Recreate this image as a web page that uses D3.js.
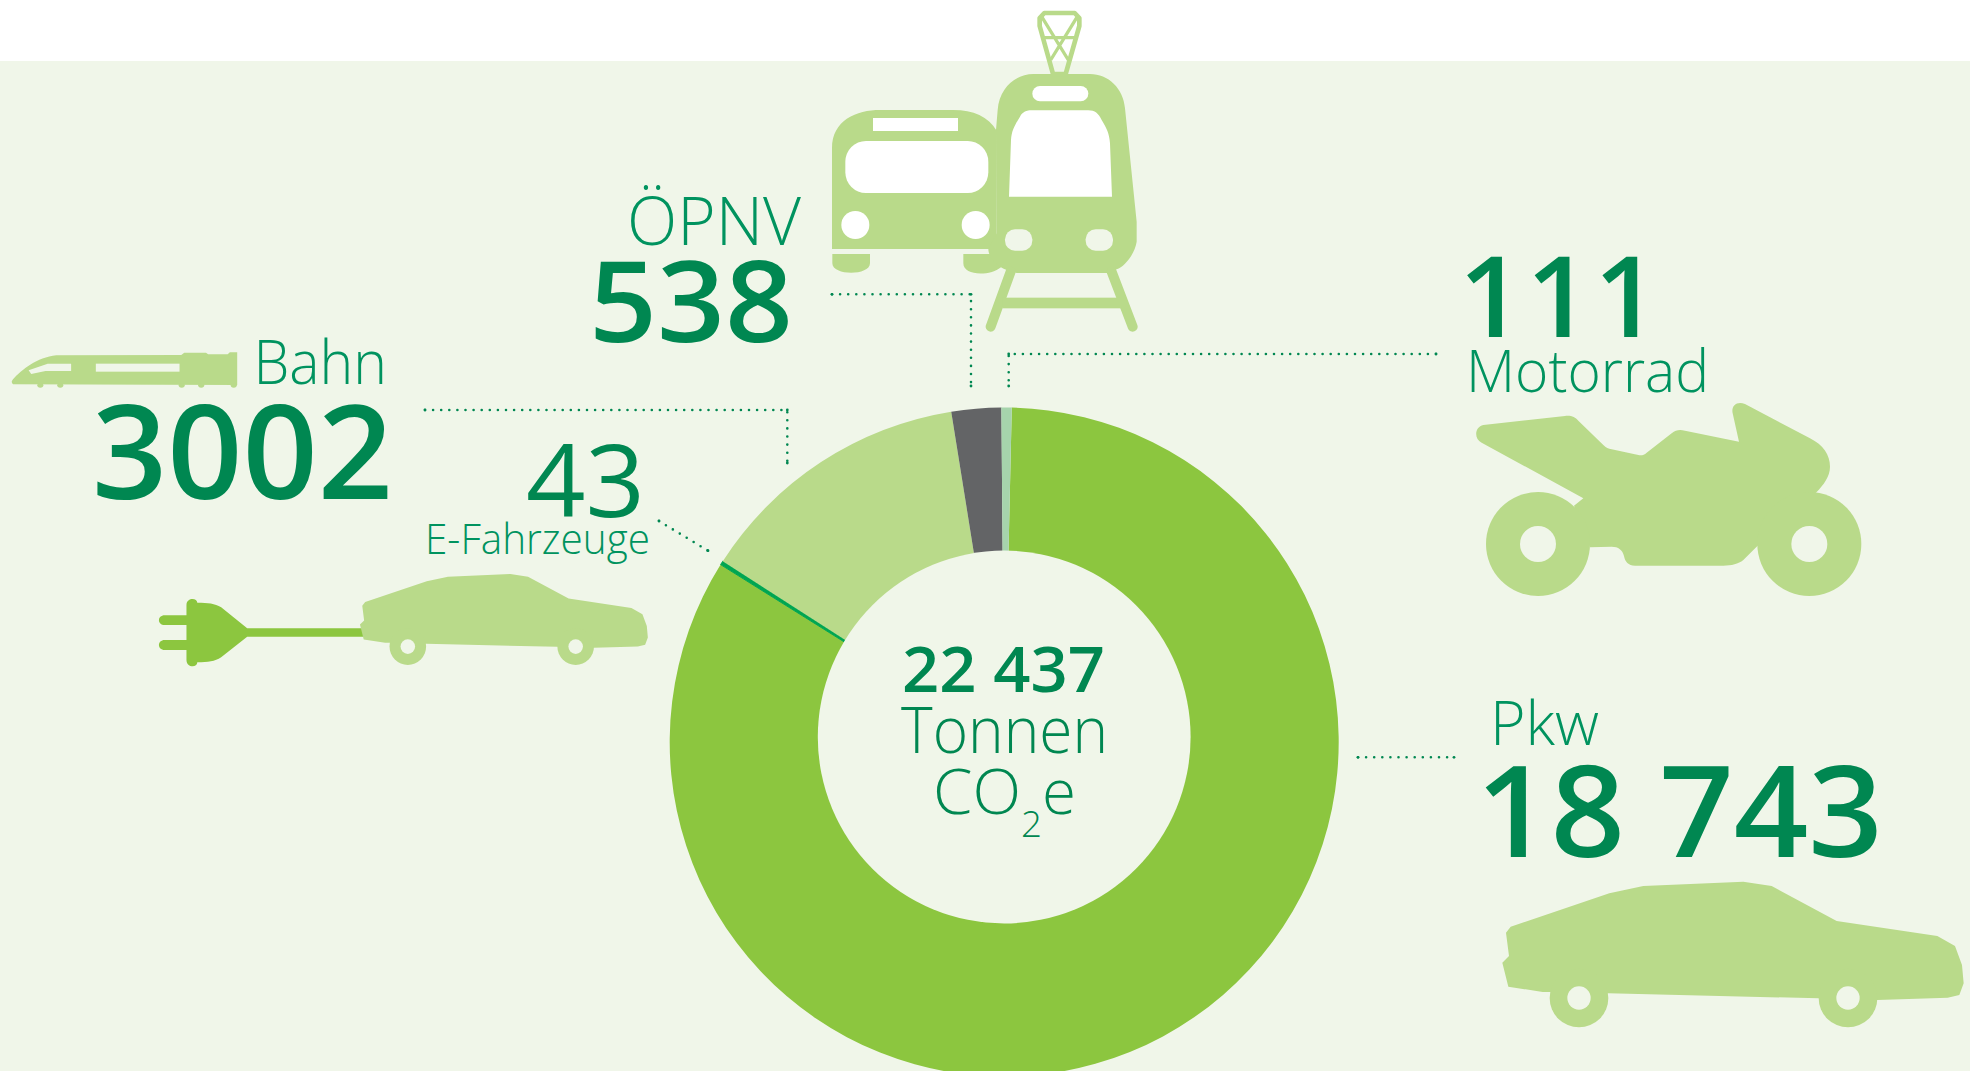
<!DOCTYPE html>
<html lang="de">
<head>
<meta charset="utf-8">
<title>22 437 Tonnen CO2e</title>
<style>
html,body{margin:0;padding:0;background:#fff;overflow:hidden}
svg{display:block}
text{font-family:"Open Sans","Noto Sans",sans-serif}
</style>
<script src="https://cdn.jsdelivr.net/npm/d3@7/dist/d3.min.js"></script>
</head>
<body>
<svg id="c" width="1970" height="1071"></svg>
<script>
// ---- data (clockwise, starting just right of 12 o'clock)
const categories = ["Pkw", "E-Fahrzeuge", "Bahn", "ÖPNV", "Motorrad"];
const values = [18743, 43, 3002, 538, 111];
const sliceColors = ["#8cc63f", "#00a651", "#b9da8a", "#636466", "#a6d4ac"];
const unitLines = ["Tonnen", "CO", "2", "e"];

// ---- palette
const BG = "#f0f6e9", ICON = "#b9da8a", PLUG = "#8cc63f", DARK = "#008751", MID = "#00935f";

const svg = d3.select("#c");
svg.append("rect").attr("x", 0).attr("y", 61).attr("width", 1970).attr("height", 1010).attr("fill", BG);

// ---- donut
const cx = 1004.2, cy = 742, outerR = 334.5;
const startDeg = 1.3;
const pie = d3.pie().sort(null).value(d => d)
  .startAngle(startDeg * Math.PI / 180)
  .endAngle((startDeg + 360) * Math.PI / 180);
const arc = d3.arc().innerRadius(150).outerRadius(outerR);
const donut = svg.append("g").attr("transform", `translate(${cx},${cy})`);
donut.selectAll("path").data(pie(values)).join("path")
  .attr("d", arc).attr("fill", (d, i) => sliceColors[i])
  .attr("stroke", (d, i) => categories[i] === "E-Fahrzeuge" ? sliceColors[i] : "none")
  .attr("stroke-width", 1);
// the hole sits a few pixels above the ring's centre in the original
svg.append("circle").attr("cx", 1004.2).attr("cy", 737).attr("r", 186.4).attr("fill", BG);

// ---- text helper
function label(str, x0, x1, base, size, weight, fill) {
  return svg.append("text").attr("x", x0).attr("y", base)
    .attr("font-size", size).attr("font-weight", weight).attr("fill", fill)
    .attr("textLength", x1 - x0).attr("lengthAdjust", "spacingAndGlyphs").text(str);
}
const grp = d3.formatLocale({decimal: ",", thousands: " ", grouping: [3], currency: ["", ""]}).format(",d");
const fmt = v => v >= 10000 ? grp(v) : String(v);
const idx = n => categories.indexOf(n);

// numbers and names, derived from the arrays
label(fmt(values[idx("Pkw")]), 1476, 1883, 857, 127, 550, DARK);
label(categories[idx("Pkw")], 1490, 1599, 745, 60, 300, MID);
label(fmt(values[idx("Motorrad")]), 1458.7, 1640, 336.5, 113, 550, DARK).attr("textLength", null).attr("letter-spacing", 3);
label(categories[idx("Motorrad")], 1466, 1709, 391.7, 58, 300, MID);
label(fmt(values[idx("ÖPNV")]), 589, 793, 342, 112, 550, DARK);
label(categories[idx("ÖPNV")], 627, 801, 245, 67, 300, MID);
label(fmt(values[idx("Bahn")]), 92, 393, 499, 130, 550, DARK);
label(categories[idx("Bahn")], 253.5, 387, 383.5, 60, 300, MID);
label(fmt(values[idx("E-Fahrzeuge")]), 526, 645, 516.7, 101, 500, DARK);
label(categories[idx("E-Fahrzeuge")], 425, 650, 554, 43, 300, MID);

// centre
label(fmt(d3.sum(values)), 902, 1105, 692.4, 62.5, 550, DARK);
label(unitLines[0], 901, 1108, 753.3, 64, 300, DARK);
label(unitLines[1], 933, 1021, 814.3, 62, 300, DARK);
label(unitLines[2], 1021, 1042, 837, 36, 300, DARK);
label(unitLines[3], 1042, 1076, 814.3, 62, 300, DARK);

// ---- dotted leaders
const leaders = [
  [[832, 294.3], [971, 294.3], [971, 386]],
  [[1436, 354], [1008.7, 354], [1008.7, 386]],
  [[425, 410], [787.3, 410], [787.3, 463]],
  [[659, 521], [708, 550.7]],
  [[1358, 757.3], [1454, 757.3]]
];
const lineGen = d3.line();
const leaderG = svg.append("g");
leaderG.selectAll("path").data(leaders).join("path")
  .attr("d", lineGen).attr("fill", "none").attr("stroke", DARK)
  .attr("stroke-width", 2.6).attr("stroke-linecap", "round").attr("stroke-dasharray", "0 8.1");
leaderG.selectAll("circle").data(leaders.flat()).join("circle")
  .attr("cx", d => d[0]).attr("cy", d => d[1]).attr("r", 1.4).attr("fill", DARK);

// ---- icons (silhouettes, no data)
// bus + tram
const transit = svg.append("g").attr("transform", "translate(800,0) scale(0.33333)");
transit.append("path").attr("fill", ICON).attr("d",
  "M96,747 V445 C96,360 170,330 240,330 H460 C520,330 565,350 590,392 L590,747 Z" +
  "M97,762 H210 V790 C210,828 97,828 97,790 Z" +
  "M490,762 H570 L605,800 C570,830 490,828 490,790 Z");
transit.append("path").attr("fill", ICON).attr("d",
  "M588,390 L593,330 C598,260 650,222 700,222 H870 C925,222 970,265 975,325 L1010,665 V725 C1005,760 975,800 950,808 L925,819 H650 L620,810 C590,800 565,770 565,747 L590,700 Z");
transit.append("path").attr("fill", "none").attr("stroke", ICON).attr("stroke-width", 30).attr("stroke-linecap", "round")
  .attr("d", "M632,815 L572,980 M935,815 L998,980");
transit.append("rect").attr("x", 608).attr("y", 893).attr("width", 355).attr("height", 32).attr("fill", ICON);
transit.append("path").attr("fill", "none").attr("stroke", ICON).attr("stroke-width", 14).attr("stroke-linejoin", "round")
  .attr("d", "M719,54 L733,39 H824 L838,54 V78 L797,222 H759 L719,78 Z");
transit.append("path").attr("fill", "none").attr("stroke", ICON).attr("stroke-width", 10)
  .attr("d", "M725,50 L805,180 M832,50 L752,180 M730,113 H825");
transit.append("rect").attr("x", 219).attr("y", 354).attr("width", 255).attr("height", 39).attr("fill", "#fff");
transit.append("rect").attr("x", 136).attr("y", 423).attr("width", 429).attr("height", 156).attr("rx", 62).attr("fill", "#fff");
transit.append("circle").attr("cx", 166).attr("cy", 675).attr("r", 42).attr("fill", "#fff");
transit.append("circle").attr("cx", 527).attr("cy", 675).attr("r", 42).attr("fill", "#fff");
transit.append("rect").attr("x", 697).attr("y", 258).attr("width", 168).attr("height", 46).attr("rx", 23).attr("fill", "#fff");
transit.append("path").attr("fill", "#fff").attr("d",
  "M627,590 L633,420 C635,390 645,375 660,350 C668,335 680,331 695,331 H865 C885,331 895,340 905,360 C920,385 928,400 930,430 L936,590 Z");
transit.append("rect").attr("x", 615).attr("y", 688).attr("width", 82).attr("height", 64).attr("rx", 30).attr("fill", BG);
transit.append("rect").attr("x", 857).attr("y", 688).attr("width", 82).attr("height", 64).attr("rx", 30).attr("fill", BG);

// motorcycle
const moto = svg.append("g").attr("transform", "translate(1440,390) scale(0.33333)");
moto.append("path").attr("fill", ICON).attr("d",
  "M130,105 L375,78 C395,76 405,82 415,92 L490,165 C498,173 505,176 515,178 L595,195 C605,197 612,195 620,188 L695,130 C708,120 718,118 735,122 L897,155 L878,70 C873,48 890,32 915,42 L1110,145 C1150,165 1170,195 1170,230 C1170,260 1150,285 1130,306 L950,470 L910,510 C895,522 875,527 850,527 L585,527 C565,527 555,515 552,498 C548,480 535,470 515,470 L450,472 L402,347 L430,325 L125,158 C100,145 105,110 130,105 Z");
[294, 1108].forEach(x => {
  moto.append("circle").attr("cx", x).attr("cy", 462).attr("r", 156).attr("fill", ICON);
  moto.append("circle").attr("cx", x).attr("cy", 462).attr("r", 54).attr("fill", BG);
});

// car
function car(tx, ty, k) {
  const g = svg.append("g").attr("transform", `translate(${tx},${ty}) scale(${k})`);
  g.append("path").attr("fill", ICON).attr("d",
    "M108,218 L122,200 L418,100 L520,78 L820,65 L905,78 L1100,183 L1402,228 L1455,258 L1476,315 L1481,370 L1468,405 L1433,413 L1222,420 L1046,415 L415,400 L240,396 L218,396 L115,380 L97,308 L117,288 Z");
  [327, 1134].forEach(x => {
    g.append("circle").attr("cx", x).attr("cy", 414).attr("r", 88).attr("fill", ICON);
    g.append("circle").attr("cx", x).attr("cy", 414).attr("r", 35).attr("fill", BG);
  });
}
// plug (drawn first so the car covers the cable end)
const plug = svg.append("g").attr("transform", "translate(0,320) scale(0.43365,0.33333)");
plug.append("path").attr("fill", PLUG).attr("d",
  "M430,855 C430,832 455,832 455,848 C480,848 495,850 510,862 L570,925 H860 V950 H570 L510,1012 C495,1025 480,1027 455,1027 C455,1044 430,1044 430,1020 V990 H380 C362,990 362,960 380,960 H430 V915 H380 C362,915 362,886 380,886 H430 Z");
car(1470, 860, 0.33333);
car(339.8, 560.5, 0.208);

// train
const train = svg.append("g").attr("transform", "translate(0,320) scale(0.43365,0.33333)");
train.append("path").attr("fill", ICON).attr("d",
  "M30,178 C50,150 85,112 130,106 L418,105 L425,98 H475 L480,103 H525 L530,97 H547 V195 L30,193 C26,188 26,184 30,178 Z");
[93, 139, 419, 464, 539].forEach(x => train.append("circle").attr("cx", x).attr("cy", 196).attr("r", 7).attr("fill", ICON));
train.append("rect").attr("x", 221).attr("y", 131).attr("width", 193).attr("height", 24).attr("fill", BG);
train.append("path").attr("fill", BG).attr("d", "M66,151 L110,131 H164 V153 H105 L72,162 Z");
</script>
</body>
</html>
